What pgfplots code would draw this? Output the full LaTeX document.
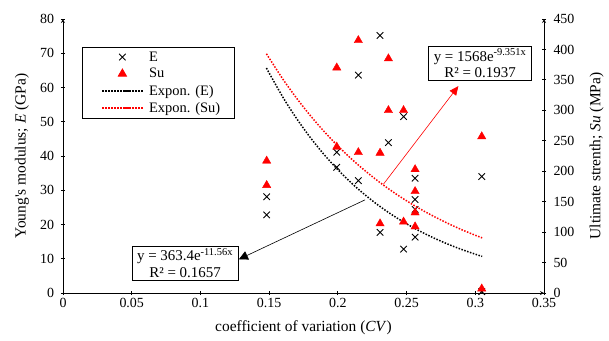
\documentclass[border=0pt]{standalone}
\usepackage{fontspec}
\setmainfont{Liberation Serif}
\usepackage{pgfplots}
\pgfplotsset{compat=1.18}
\usetikzlibrary{arrows.meta}

\pgfplotsset{
  base/.style={
    scale only axis, width=481bp, height=274bp,
    xmin=0, xmax=0.35,
    xtick={0,0.05,0.1,0.15,0.2,0.25,0.3,0.35},
    xticklabels={0,0.05,0.1,0.15,0.2,0.25,0.3,0.35},
    tick align=outside,
    major tick length=4bp,
    tick style={black, line width=0.8bp},
    axis line style={-, black, line width=0.8bp},
    tick label style={font=\fontsize{14}{16}\selectfont, inner sep=1bp},
    xticklabel style={yshift=-2.3bp},
    /pgf/number format/assume math mode=true,
    clip=false,
  },
  trend/.style={line width=1.5bp, dash pattern=on 1.5bp off 1.5bp, smooth, no marks},
  emark/.style={only marks, mark=x, mark size=4.6bp, black, mark options={line width=0.9bp}},
}

\begin{document}
\begin{tikzpicture}
\useasboundingbox (-63bp,-48bp) rectangle (546bp,293bp);

% Left axis: Young's modulus
\begin{axis}[base,
  ymin=0, ymax=80, ytick={0,10,20,30,40,50,60,70,80},
  axis x line=bottom, axis y line=left,
  yticklabel style={xshift=-5.8bp},
  every axis y label/.style={at={(axis description cs:-0.0852,0.5)}, anchor=center, rotate=90},
  every axis x label/.style={at={(axis description cs:0.5,-0.1277)}, anchor=center},
  xlabel={\fontsize{15.5}{17}\selectfont coefficient of variation (\textit{CV})},
  ylabel={\fontsize{15.5}{17}\selectfont Young\textquotesingle s modulus; \textit{E} (GPa)},
]
\addplot[emark] coordinates {
  (0.1482,28.1) (0.1482,22.8)
  (0.1992,41.1) (0.1992,36.7)
  (0.2149,63.6) (0.2149,32.8)
  (0.2307,75.2) (0.2307,17.7)
  (0.2368,43.9)
  (0.2478,51.5) (0.2478,12.8)
  (0.2562,33.5) (0.2562,27.3) (0.2562,24.4) (0.2562,16.3)
  (0.3047,34.0) (0.3047,0.4)
};
\addplot[trend, black] coordinates {
  (0.148,65.68) (0.16,57.17) (0.17,50.93) (0.18,45.37) (0.19,40.41)
  (0.20,36.00) (0.21,32.07) (0.22,28.57) (0.23,25.45) (0.24,22.67)
  (0.25,20.20) (0.26,17.99) (0.27,16.03) (0.28,14.28) (0.29,12.72)
  (0.30,11.33) (0.305,10.69)
};
\end{axis}

% Right axis: Ultimate strength
\begin{axis}[base,
  ymin=0, ymax=450, ytick={0,50,100,150,200,250,300,350,400,450},
  axis x line=none, axis y line=right,
  yticklabel style={xshift=6.3bp},
  every axis y label/.style={at={(axis description cs:1.1096,0.5)}, anchor=center, rotate=90},
  ylabel={\fontsize{15.5}{17}\selectfont Ultimate strenth; \textit{Su} (MPa)},
  legend style={at={(axis description cs:0.04,0.899)}, anchor=north west,
    draw=black, line width=0.8bp, inner xsep=12bp, inner ysep=2.5bp,
    font=\fontsize{14.5}{16}\selectfont, row sep=1.8bp,
    cells={anchor=west}},
  legend image code/.code={%
    \path (-7bp,0bp) (44bp,0bp);
    \draw[mark repeat=2,mark phase=2,#1] plot coordinates {(0bp,0bp) (20bp,0bp) (40bp,0bp)};},
]
\addlegendimage{emark}
\addlegendentry{E}
\addplot[only marks, mark=triangle*, mark size=4.8bp, red] coordinates {
  (0.1482,217) (0.1482,177)
  (0.1992,370) (0.1992,240)
  (0.2149,415) (0.2149,231)
  (0.2307,230) (0.2307,114)
  (0.2368,385) (0.2368,300)
  (0.2478,300) (0.2478,117)
  (0.2562,203) (0.2562,167) (0.2562,132) (0.2562,109)
  (0.3047,257) (0.3047,7)
};
\addlegendentry{Su}
\addlegendimage{trend, black}
\addlegendentry{Expon. (E)}
\addplot[trend, red] coordinates {
  (0.148,392.9) (0.16,351.2) (0.17,319.9) (0.18,291.3) (0.19,265.3)
  (0.20,241.6) (0.21,220.0) (0.22,200.4) (0.23,182.5) (0.24,166.2)
  (0.25,151.4) (0.26,137.9) (0.27,125.6) (0.28,114.4) (0.29,104.1)
  (0.30,94.84) (0.305,90.51)
};
\addlegendentry{Expon. (Su)}

\draw[black, line width=0.6bp, -{Triangle[width=9bp,length=9bp]}] (axis cs:0.2198,153) -- (axis cs:0.128,55.4);
\draw[red, line width=0.6bp, -{Triangle[width=8bp,length=9bp]}] (axis cs:0.2331,178.5) -- (axis cs:0.2877,339.8);
\node[draw=black, line width=0.8bp, fill=white, align=center, inner xsep=5bp, inner ysep=2bp,
  font=\fontsize{15}{17}\selectfont] at (axis cs:0.0888,48.8)
  {y = 363.4e\textsuperscript{-11.56x}\\R² = 0.1657};
\node[draw=black, line width=0.8bp, fill=white, align=center, inner xsep=5bp, inner ysep=2bp,
  font=\fontsize{15}{17}\selectfont] at (axis cs:0.3035,376.9)
  {y = 1568e\textsuperscript{-9.351x}\\R² = 0.1937};
\end{axis}
\end{tikzpicture}
\end{document}
